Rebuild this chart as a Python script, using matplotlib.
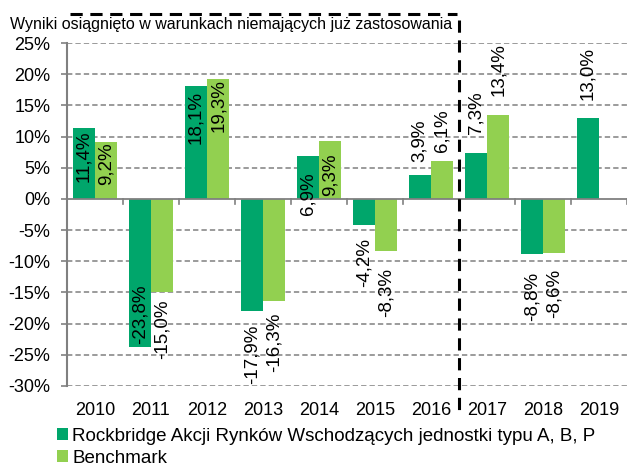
import matplotlib.pyplot as plt

plt.rcParams['font.family'] = ['Liberation Sans', 'DejaVu Sans']

years = ['2010', '2011', '2012', '2013', '2014', '2015', '2016', '2017', '2018', '2019']
fund = [11.4, -23.8, 18.1, -17.9, 6.9, -4.2, 3.9, 7.3, -8.8, 13.0]
bench = [9.2, -15.0, 19.3, -16.3, 9.3, -8.3, 6.1, 13.4, -8.6, None]
fund_name = 'Rockbridge Akcji Rynków Wschodzących jednostki typu A, B, P'
bench_name = 'Benchmark'
note = 'Wyniki osiągnięto w warunkach niemających już zastosowania'
first_current = '2017'

# label gap from bar end in px: >0 outside, <0 inside
fund_gap = [-3, -3, -5, 14, -16, 13, 13, 19, 18, 18]
bench_gap = [-1, 7, -1, 12, -13, 17, 9, 19, 16, 0]

dark = '#00A66B'
light = '#92D050'
grey = '#808080'

fig = plt.figure(figsize=(6.27, 4.70), dpi=100)
W, H = 627, 470
ax = fig.add_axes([67 / W, (H - 386) / H, (627 - 67) / W, (386 - 43) / H])

x = list(range(len(years)))
bw = 0.4
ax.bar([i - bw / 2 for i in x], fund, bw, color=dark, label=fund_name, zorder=3)
bx = [i + bw / 2 for i, v in zip(x, bench) if v is not None]
bv = [v for v in bench if v is not None]
ax.bar(bx, bv, bw, color=light, label=bench_name, zorder=3)

ax.set_xlim(-0.5, len(years) - 0.5)
ax.set_ylim(-30, 25)
yt = list(range(-30, 26, 5))
ax.set_yticks(yt)
ax.set_yticklabels([f'{t}%' for t in yt], fontsize=13)
for t in yt:
    if t != 0:
        ax.axhline(t, color=grey, lw=1.1, ls=(0, (3.5, 2)), zorder=1)
ax.axhline(0, color=grey, lw=1.3, zorder=4)

for s in ['top', 'right', 'bottom']:
    ax.spines[s].set_visible(False)
ax.spines['left'].set_color(grey)
ax.spines['left'].set_linewidth(1.5)
ax.tick_params(axis='y', length=4, color=grey, width=1.2, pad=8)

# category boundary ticks on the zero line
ax.set_xticks([])
for i in range(len(years) + 1):
    ax.plot([i - 0.5, i - 0.5], [0, -0.8], color=grey, lw=1.2, zorder=4, clip_on=False)

tr = ax.get_xaxis_transform()
for i, y in zip(x, years):
    ax.text(i, -0.07, y, transform=tr, ha='center', va='center', fontsize=13)


def label(xpos, v, gap):
    if v is None:
        return
    txt = f'{v:.1f}%'.replace('.', ',')
    if v >= 0:
        off = gap
        va = 'bottom' if gap > 0 else 'top'
    else:
        off = -gap
        va = 'top' if gap > 0 else 'bottom'
    ax.annotate(txt, (xpos, v), xytext=(0, off * 0.72), textcoords='offset points',
                rotation=90, ha='center', va=va, fontsize=13.5, zorder=5)


for i in x:
    label(i - bw / 2, fund[i], fund_gap[i])
    label(i + bw / 2, bench[i], bench_gap[i])

# separator between past and current conditions
sep = years.index(first_current) - 0.5
ax.plot([sep, sep], [1.067, -0.076], transform=tr, color='black', lw=2.2,
        ls=(0, (4, 2.5)), clip_on=False, zorder=6)
ax.plot([-0.446, sep - 0.04], [1.085, 1.085], transform=tr, color='black', lw=2.2,
        ls=(0, (4, 2.5)), clip_on=False, zorder=6)
fig.text(10 / W, 1 - 25 / H, note, fontsize=11.5, va='center', ha='left')

fig.legend(loc='upper left', bbox_to_anchor=(57 / W, 1 - 428 / H), frameon=False,
           fontsize=13.5, handlelength=0.6, handleheight=0.6, handletextpad=0.2,
           labelspacing=0.25, borderpad=0, borderaxespad=0)

fig.savefig('out.png', dpi=100)
